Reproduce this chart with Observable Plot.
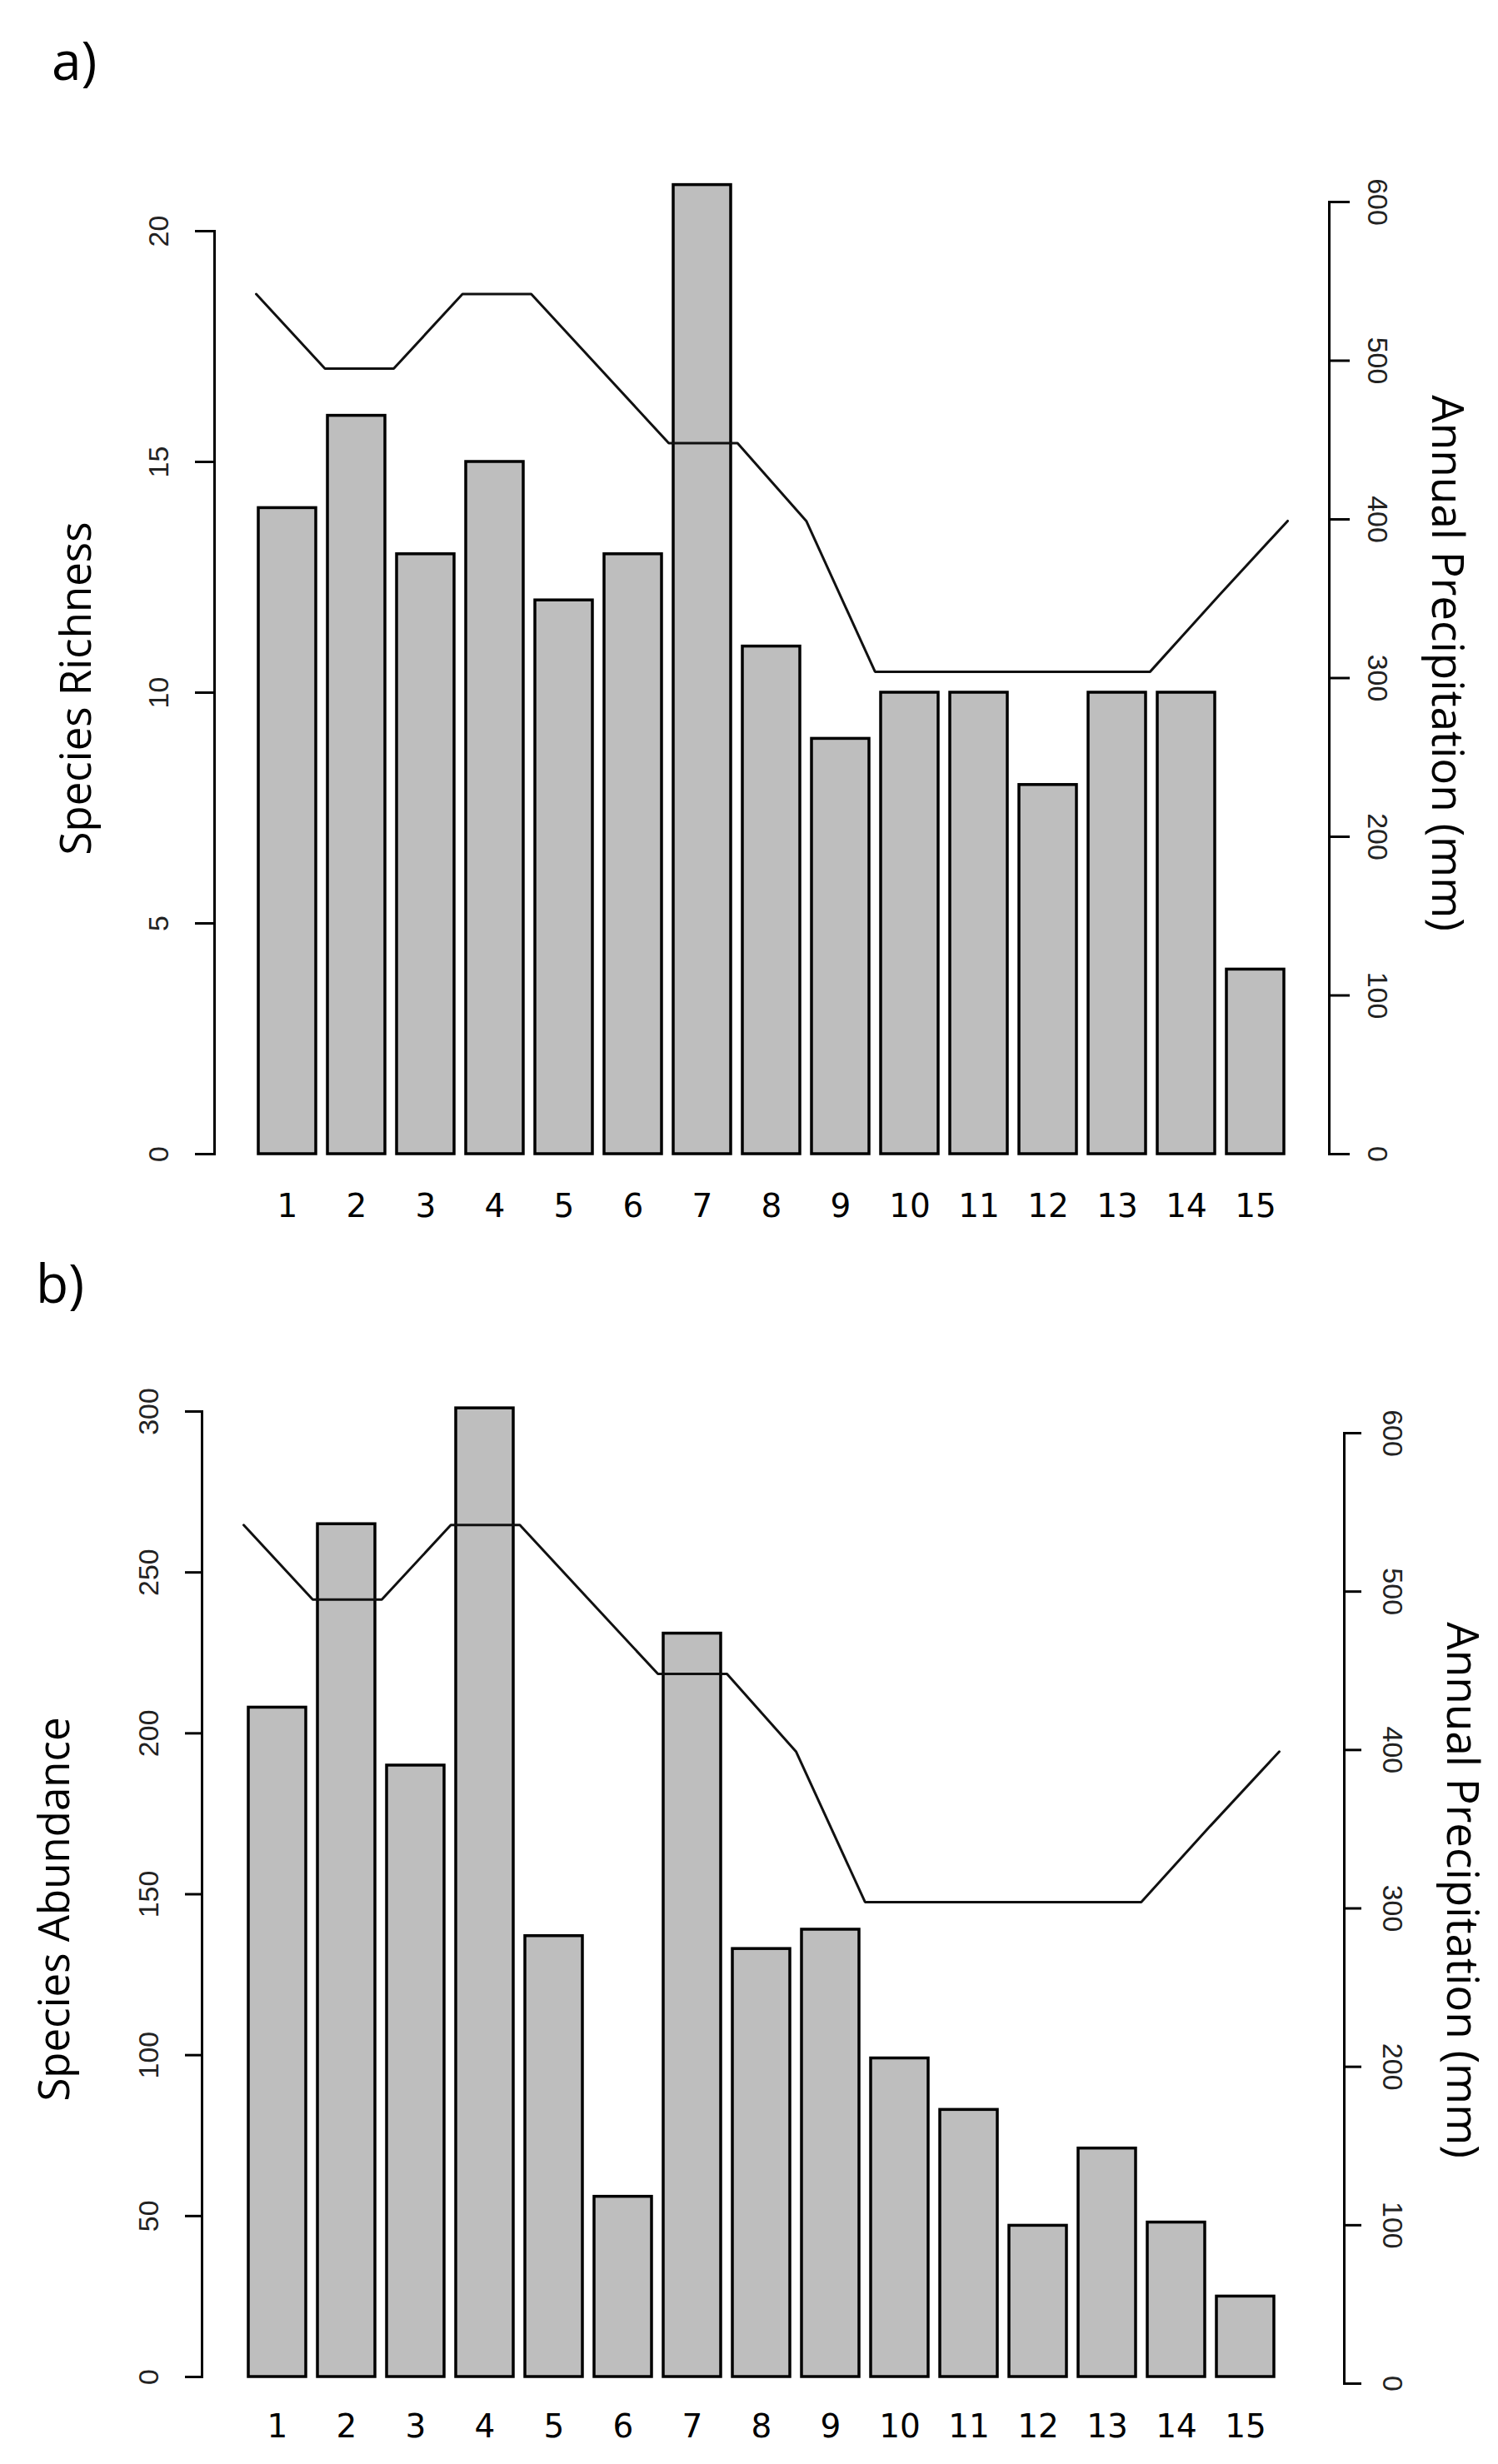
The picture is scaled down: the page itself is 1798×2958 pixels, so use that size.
<!DOCTYPE html>
<html>
<head>
<meta charset="utf-8">
<script src="https://cdn.jsdelivr.net/npm/d3@7"></script>
<script src="https://cdn.jsdelivr.net/npm/@observablehq/plot@0.6"></script>
<style>
  html, body { margin: 0; padding: 0; background: #fff; }
  #page { position: relative; width: 1798px; height: 2958px; background: #fff; overflow: hidden; }
  .panel { position: absolute; left: 0; width: 1798px; height: 1479px; }
  .panel svg { position: absolute; left: 0; top: 0; }
  .tag { position: absolute; font-family: "Open Sans", sans-serif; font-size: 64px; line-height: 64px; color: #000; }
</style>
</head>
<body>
<div id="page">
  <div class="panel" id="panelA" style="top:0px"><div class="tag" style="left:62px;top:40px">a)</div></div>
  <div class="panel" id="panelB" style="top:1479px"><div class="tag" style="left:43px;top:29px">b)</div></div>
</div>
<script>
// ---- data ----
const sites = [1, 2, 3, 4, 5, 6, 7, 8, 9, 10, 11, 12, 13, 14, 15];
const richness = [14, 16, 13, 15, 12, 13, 21, 11, 9, 10, 10, 8, 10, 10, 4];
const abundance = [208, 265, 190, 301, 137, 56, 231, 133, 139, 99, 83, 47, 71, 48, 25];
const precipPoint = [1, 2, 3, 4, 5, 6, 7, 8, 9, 10, 11, 12, 13, 14, 15, 16];
const precipitation = [542, 495, 495, 542, 542, 495, 448, 448, 399, 304, 304, 304, 304, 304, 352, 399];
const richnessTicks = [0, 5, 10, 15, 20];
const abundanceTicks = [0, 50, 100, 150, 200, 250, 300];
const precipTicks = [0, 100, 200, 300, 400, 500, 600];

const W = 1798, H = 1479;
const barFill = "#bebebe";
const tickFont = "Liberation Sans, Arial, sans-serif";
const labelFont = "DejaVu Sans, sans-serif";
const titleFont = "Open Sans, sans-serif";
const svgStyle = {background: "transparent", overflow: "visible", maxWidth: "none"};

function barPanel(cfg) {
  const rows = sites.map((s, i) => ({site: s, value: cfg.values[i]}));
  return Plot.plot({
    width: W, height: H,
    marginLeft: cfg.left, marginRight: W - cfg.frameRight,
    marginTop: cfg.top, marginBottom: H - cfg.bottom,
    style: svgStyle,
    x: {type: "band", domain: sites, range: cfg.barRange, paddingInner: 1 / 6, paddingOuter: 0, axis: null},
    y: {domain: [0, cfg.yMax], axis: null},
    marks: [
      Plot.barY(rows, {x: "site", y: "value", fill: barFill, stroke: "#000", strokeWidth: 3.5}),
      Plot.frame({anchor: "left", stroke: "#000", strokeWidth: 3}),
      Plot.axisY({anchor: "left", ticks: cfg.ticks, tickSize: cfg.tickSize, tickFormat: () => "", stroke: "#000", strokeWidth: 3, label: null}),
      Plot.text(cfg.ticks, {y: d => d, text: d => String(d), frameAnchor: "left", dx: cfg.tickDx, rotate: -90,
        textAnchor: "middle", lineAnchor: "middle", fontSize: 34, fontFamily: tickFont, fill: "#222"}),
      Plot.text(sites, {x: d => d, text: d => String(d), frameAnchor: "bottom", dy: cfg.labelDy,
        textAnchor: "middle", lineAnchor: "middle", fontSize: 39, fontFamily: labelFont, fill: "#000"}),
      Plot.text([cfg.title], {text: d => d, frameAnchor: "left", dx: cfg.titleDx, dy: cfg.titleDy, rotate: -90,
        textAnchor: "middle", lineAnchor: "middle", fontSize: 51, fontFamily: titleFont, fill: "#000"})
    ]
  });
}

function linePanel(cfg) {
  const rows = precipPoint.map((p, i) => ({p, mm: precipitation[i]}));
  return Plot.plot({
    width: W, height: H,
    marginLeft: cfg.frameLeft, marginRight: W - cfg.axisX,
    marginTop: cfg.top, marginBottom: H - cfg.bottom,
    style: svgStyle,
    x: {type: "linear", domain: [1, 16], range: cfg.lineRange, axis: null},
    y: {domain: [0, 600], axis: null},
    marks: [
      Plot.lineY(rows, {x: "p", y: "mm", stroke: "#111", strokeWidth: 3, strokeLinejoin: "miter"}),
      Plot.frame({anchor: "right", stroke: "#000", strokeWidth: 3}),
      Plot.axisY({anchor: "right", ticks: precipTicks, tickSize: cfg.tickSize, tickFormat: () => "", stroke: "#000", strokeWidth: 3, label: null}),
      Plot.text(precipTicks, {y: d => d, text: d => String(d), frameAnchor: "right", dx: 57, rotate: 90,
        textAnchor: "middle", lineAnchor: "middle", fontSize: 34, fontFamily: tickFont, fill: "#222"}),
      Plot.text(["Annual Precipitation (mm)"], {text: d => d, frameAnchor: "right", dx: 140, dy: cfg.titleDy, rotate: 90,
        textAnchor: "middle", lineAnchor: "middle", fontSize: 53, fontFamily: titleFont, fill: "#000"})
    ]
  });
}

const A = document.getElementById("panelA");
A.appendChild(barPanel({values: richness, yMax: 20, ticks: richnessTicks, left: 257, frameRight: 1595,
  top: 277, bottom: 1385, barRange: [307, 1545], tickSize: 23, tickDx: -66, labelDy: 63,
  title: "Species Richness", titleDx: -165, titleDy: -5}));
A.appendChild(linePanel({frameLeft: 257, axisX: 1595, top: 242, bottom: 1385, lineRange: [307, 1545],
  tickSize: 24, titleDy: -18}));

const B = document.getElementById("panelB");
B.appendChild(barPanel({values: abundance, yMax: 300, ticks: abundanceTicks, left: 242, frameRight: 1585,
  top: 215, bottom: 1374, barRange: [292, 1535], tickSize: 20, tickDx: -63, labelDy: 60,
  title: "Species Abundance", titleDx: -176, titleDy: 18}));
B.appendChild(linePanel({frameLeft: 242, axisX: 1613, top: 241, bottom: 1382, lineRange: [292, 1535],
  tickSize: 20, titleDy: -22}));
</script>
</body>
</html>
